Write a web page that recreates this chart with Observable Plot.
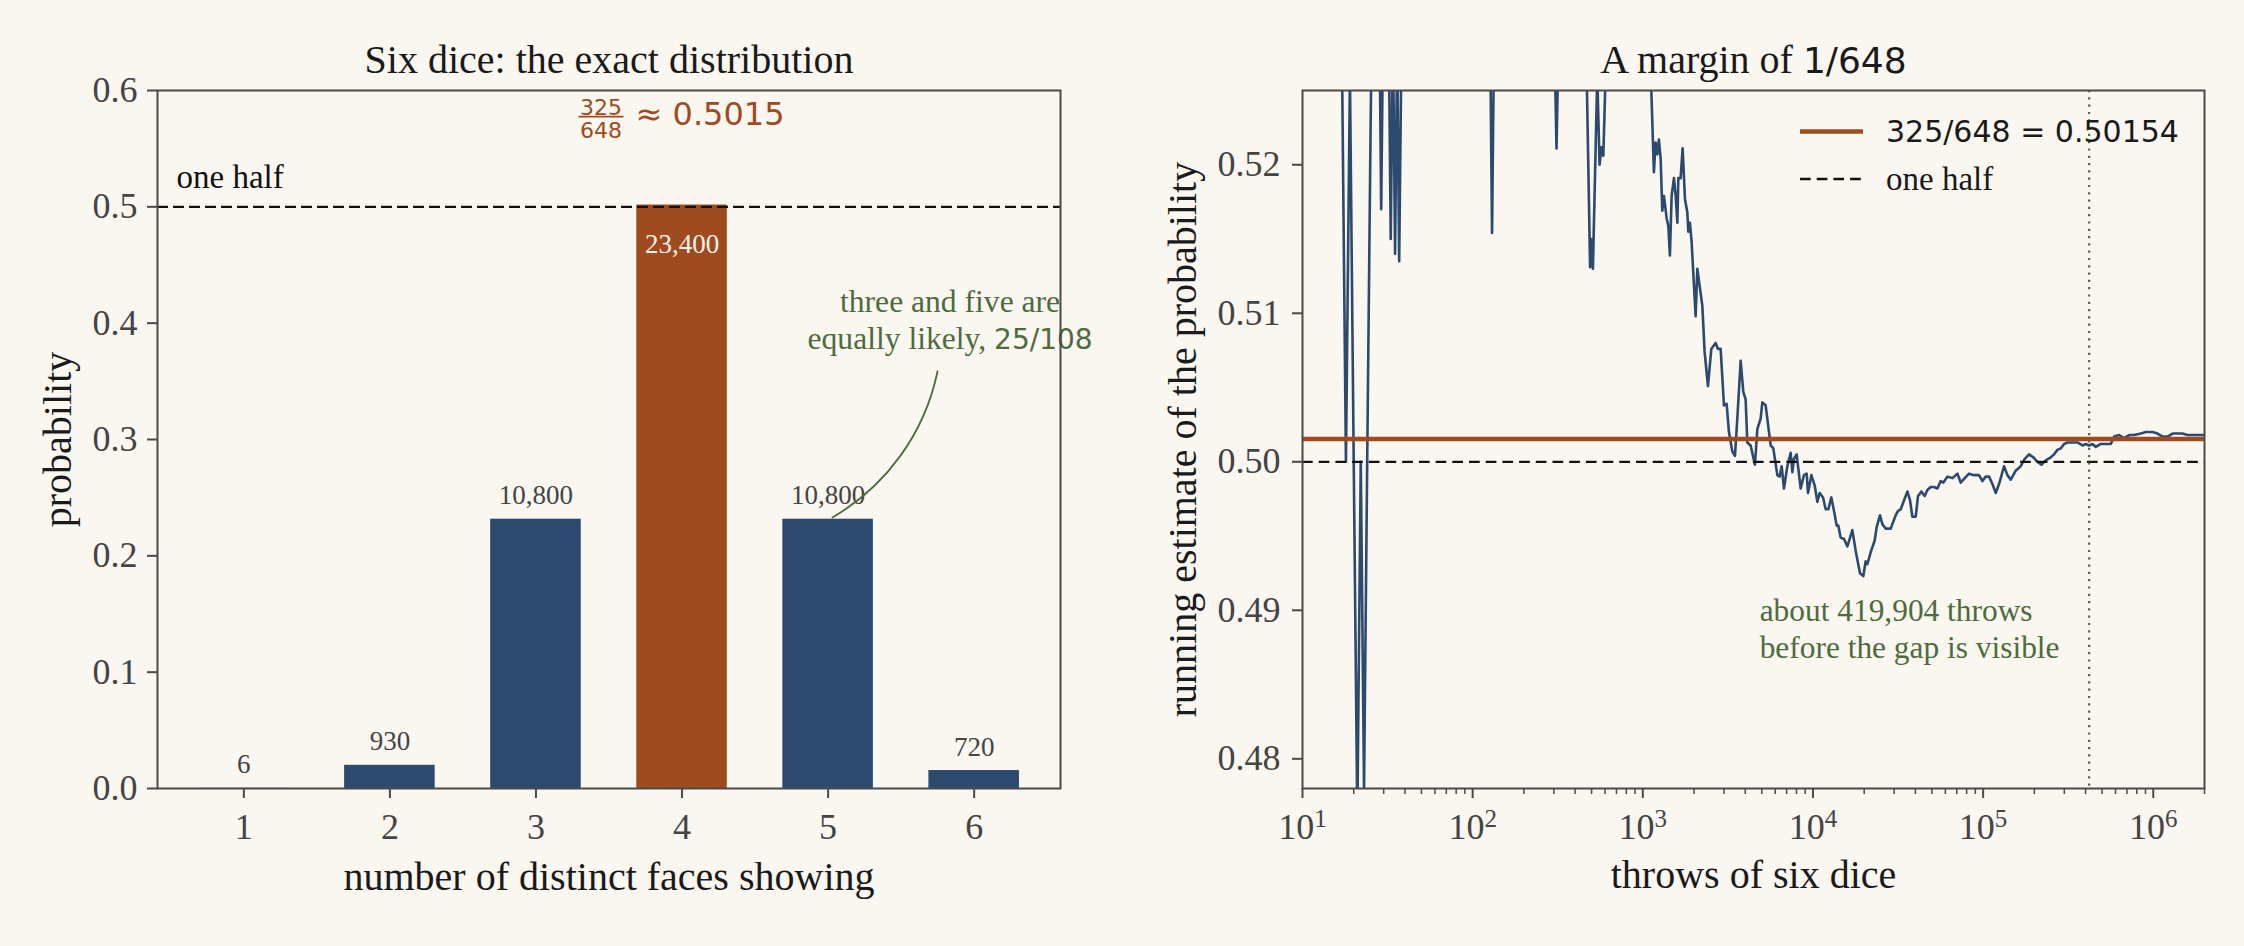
<!DOCTYPE html>
<html>
<head>
<meta charset="utf-8">
<script src="https://cdn.jsdelivr.net/npm/d3@7"></script>
<script src="https://cdn.jsdelivr.net/npm/@observablehq/plot@0.6"></script>
<style>
html, body { margin: 0; padding: 0; background: #faf6f0; }
#wrap { display: flex; width: 2244px; height: 946px; }
#wrap svg { display: block; }
</style>
</head>
<body>
<div id="wrap"></div>
<script>
// ---------- data ----------
const faces = [1, 2, 3, 4, 5, 6];
const counts = [6, 930, 10800, 23400, 10800, 720];
const probs = [0.000129, 0.01993, 0.23148, 0.50154, 0.23148, 0.01543];
const leftYTicks = [0, 0.1, 0.2, 0.3, 0.4, 0.5, 0.6];

const throwsN = [
  10, 11, 12, 13, 14, 15, 16, 17, 18, 19, 20, 21, 22, 23, 24, 25, 26, 27, 28, 29,
  30, 31, 32, 33, 34, 35, 36, 37, 38, 39, 40, 50, 60, 75, 90, 105, 118, 126, 127, 128,
  129, 130, 131, 132, 133, 134, 140, 160, 200, 250, 290, 300, 304, 311, 318, 330, 380, 430, 460, 468,
  490, 498, 509, 540, 557, 572, 586, 604, 650, 750, 900, 1050, 1110, 1122, 1162, 1189, 1217, 1243, 1273, 1302,
  1331, 1380, 1412, 1443, 1477, 1524, 1560, 1596, 1617, 1668, 1714, 1769, 1826, 1851, 1892, 1936, 2044, 2091, 2238, 2308,
  2415, 2527, 2679, 2765, 2867, 2999, 3109, 3208, 3357, 3480, 3592, 3758, 3896, 4021, 4112, 4302, 4560, 4710, 4926, 5040,
  5272, 5641, 5848, 6175, 6368, 6546, 6754, 7070, 7396, 7568, 7734, 8017, 8468, 8851, 9183, 9350, 9786, 10240, 10610, 10950,
  11460, 11880, 12320, 12820, 13290, 13780, 14100, 14540, 15220, 15930, 17040, 17830, 18890, 19770, 20400, 20880, 21830, 23050, 23680, 24770,
  25570, 26760, 28630, 30630, 31620, 32780, 35890, 37200, 38390, 40170, 41450, 43360, 45370, 47040, 49200, 51470, 53850, 56360, 58420, 61660,
  65990, 70630, 73840, 77980, 82630, 88450, 94640, 99020, 103500, 108400, 113400, 118600, 124100, 132700, 138900, 145300, 155500, 166300, 175600, 186200,
  197500, 208400, 220000, 233300, 249700, 261200, 273300, 285800, 299000, 313000, 335000, 358400, 383700, 401300, 419800, 439500, 459500, 491700, 526100, 563000,
  588800, 630000, 674400, 721600, 772100, 845300, 904300, 990000, 1059000, 1134000, 1213000, 1298000, 1389000, 1486000, 1590000, 1701000, 1820000, 1974000, 2000000
];
const runningP = [
  0.6, 0.545, 0.583, 0.615, 0.571, 0.6, 0.5625, 0.529, 0.5, 0.526, 0.5, 0.476, 0.5, 0.478, 0.5, 0.52, 0.538, 0.556, 0.536, 0.517,
  0.533, 0.548, 0.531, 0.515, 0.529, 0.514, 0.528, 0.5135, 0.526, 0.538, 0.55, 0.56, 0.55, 0.547, 0.544, 0.54, 0.536, 0.532, 0.5276, 0.5234,
  0.5194, 0.5154, 0.519, 0.5227, 0.526, 0.53, 0.536, 0.54, 0.545, 0.54, 0.535, 0.532, 0.527, 0.5211, 0.527, 0.532, 0.535, 0.534, 0.53, 0.526,
  0.5131, 0.515, 0.513, 0.526, 0.52, 0.5212, 0.5206, 0.526, 0.532, 0.536, 0.534, 0.53, 0.527, 0.525, 0.5195, 0.5215, 0.5207, 0.5217, 0.5204, 0.5169,
  0.5179, 0.5164, 0.5159, 0.5139, 0.5179, 0.5191, 0.5179, 0.5161, 0.5191, 0.5191, 0.5211, 0.5177, 0.5168, 0.5155, 0.5161, 0.5148, 0.5098, 0.513, 0.5105, 0.5074,
  0.5051, 0.5076, 0.508, 0.5076, 0.5076, 0.5038, 0.5039, 0.502, 0.5007, 0.5004, 0.5029, 0.5068, 0.5047, 0.5042, 0.5013, 0.5011, 0.4998, 0.5022, 0.5029, 0.504,
  0.5038, 0.5011, 0.5009, 0.4991, 0.499, 0.4997, 0.4982, 0.4997, 0.5006, 0.4993, 0.5002, 0.5005, 0.4982, 0.4991, 0.4992, 0.4979, 0.4991, 0.4984, 0.4973, 0.4979,
  0.4976, 0.4968, 0.4968, 0.4976, 0.4967, 0.4957, 0.4957, 0.4949, 0.4948, 0.4943, 0.4954, 0.494, 0.4925, 0.4923, 0.4933, 0.4931, 0.4939, 0.4947, 0.4956, 0.4964,
  0.4958, 0.4955, 0.4955, 0.4964, 0.4967, 0.4968, 0.498, 0.4974, 0.4963, 0.4963, 0.4977, 0.498, 0.4977, 0.4981, 0.4983, 0.4983, 0.4982, 0.4987, 0.4986, 0.499,
  0.4989, 0.4992, 0.4986, 0.4989, 0.4992, 0.4991, 0.4991, 0.4987, 0.499, 0.499, 0.4985, 0.4979, 0.4985, 0.4997, 0.4991, 0.4988, 0.4994, 0.4997, 0.5002, 0.5005,
  0.5003, 0.5, 0.4998, 0.5001, 0.5003, 0.5005, 0.5008, 0.5009, 0.5012, 0.5013, 0.5013, 0.5013, 0.5011, 0.5012, 0.5011, 0.5012, 0.501, 0.5012, 0.5012, 0.5012,
  0.5017, 0.5018, 0.5016, 0.5018, 0.5018, 0.5019, 0.502, 0.502, 0.5019, 0.5017, 0.5017, 0.5019, 0.5019, 0.5019, 0.5018, 0.5018, 0.5018, 0.5018, 0.5018
];
const rightXTicks = [10, 100, 1000, 10000, 100000, 1000000];
const rightYTicks = [0.48, 0.49, 0.50, 0.51, 0.52];
const exactP = 0.50154;      // 325/648
const oneHalf = 0.5;
const gapThrows = 419904;

// ---------- style ----------
const BG = "#faf6f0", BLUE = "#2c4a6e", ORANGE = "#9f4a1f", GREEN = "#4e6b3e";
const AX = "#4a4a4a", TICKTXT = "#444444", INK = "#1a1a1a";
const SERIF = "Liberation Serif, serif";
const SANS = "DejaVu Sans";

const bars = faces.map((f, i) => ({face: f, p: probs[i], count: counts[i]}));
const run = throwsN.map((n, i) => ({n, p: runningP[i]}));
const fmt = d3.format(",");

const minorTicks = [];
for (let e = 1; e <= 6; e++) for (let m = 2; m <= 9; m++) {
  const v = m * Math.pow(10, e);
  if (v <= 2e6) minorTicks.push(v);
}

const baseStyle = {background: "transparent", fontFamily: SERIF, maxWidth: "none", overflow: "visible"};

// ---------- left chart ----------
const left = Plot.plot({
  width: 1122, height: 946,
  marginLeft: 157, marginRight: 62, marginTop: 90, marginBottom: 158,
  style: baseStyle,
  x: {type: "linear", domain: [0.409, 6.591]},
  y: {domain: [0, 0.6]},
  marks: [
    Plot.rectY(bars, {x1: d => d.face - 0.31, x2: d => d.face + 0.31, y1: 0, y2: "p",
      fill: d => d.face === 4 ? ORANGE : BLUE}),
    Plot.ruleY([oneHalf], {stroke: "#111", strokeWidth: 2.3, strokeDasharray: "11,5"}),
    Plot.text(bars.filter(d => d.face !== 4), {x: "face", y: "p", text: d => fmt(d.count),
      dy: -23.5, lineAnchor: "middle", fontSize: 27, fill: TICKTXT}),
    Plot.text(bars.filter(d => d.face === 4), {x: "face", y: "p", text: d => fmt(d.count),
      dy: 39, lineAnchor: "middle", fontSize: 27, fill: "#fbf3ea"}),
    Plot.text(["one half"], {y: () => oneHalf, frameAnchor: "left", dx: 19, dy: -19,
      textAnchor: "start", lineAnchor: "bottom", fontSize: 33, fill: "#111"}),
    // fraction annotation above bar 4
    Plot.text(["325"], {x: () => 4, y: () => exactP, dx: -81, dy: -89.6, lineAnchor: "bottom",
      fontFamily: SANS, fontSize: 22, fill: ORANGE}),
    Plot.text(["648"], {x: () => 4, y: () => exactP, dx: -81, dy: -67.3, lineAnchor: "bottom",
      fontFamily: SANS, fontSize: 22, fill: ORANGE}),
    (index, scales) => {
      const x0 = scales.x(4), y0 = scales.y(exactP) - 87.9;
      return d3.create("svg:line").attr("x1", x0 - 103).attr("x2", x0 - 58)
        .attr("y1", y0).attr("y2", y0).attr("stroke", ORANGE).attr("stroke-width", 1.6).node();
    },
    Plot.text(["≈ 0.5015"], {x: () => 4, y: () => exactP, dx: -46.5, dy: -79.6, textAnchor: "start",
      lineAnchor: "bottom", fontFamily: SANS, fontSize: 32, fill: ORANGE}),
    // green annotation
    Plot.text(["three and five are\nequally likely, 25/108"], {x: () => 5.835, y: () => 0.378,
      textAnchor: "middle", lineAnchor: "bottom", lineHeight: 1.175, fontSize: 31.6, fill: GREEN}),
    Plot.arrow([0], {x1: () => 5.749, y1: () => 0.3585, x2: () => 5.03, y2: () => 0.233,
      bend: 24, headLength: 0, stroke: GREEN, strokeWidth: 1.8}),
    // titles and labels
    Plot.text(["Six dice: the exact distribution"], {frameAnchor: "top", dy: -17.5, lineAnchor: "bottom",
      textAnchor: "middle", fontSize: 40, fill: INK}),
    Plot.text(["number of distinct faces showing"], {frameAnchor: "bottom", dy: 101, lineAnchor: "bottom",
      textAnchor: "middle", fontSize: 40, fill: INK}),
    Plot.text(["probability"], {frameAnchor: "left", rotate: -90, dx: -87, lineAnchor: "bottom",
      textAnchor: "middle", fontSize: 40, fill: INK}),
    Plot.frame({stroke: AX, strokeWidth: 2}),
    Plot.axisX({ticks: faces, tickFormat: d => String(d), tickSize: 10, tickPadding: 15, fontSize: 36,
      stroke: AX, strokeWidth: 2, fill: TICKTXT, label: null}),
    Plot.axisY({ticks: leftYTicks, tickFormat: ".1f", tickSize: 10, tickPadding: 10, fontSize: 36,
      stroke: AX, strokeWidth: 2, fill: TICKTXT, label: null})
  ]
});

// ---------- right chart ----------
const right = Plot.plot({
  width: 1122, height: 946,
  marginLeft: 180, marginRight: 40, marginTop: 90, marginBottom: 158,
  style: baseStyle,
  x: {type: "log", domain: [10, 2e6]},
  y: {domain: [0.478, 0.525]},
  marks: [
    Plot.line(run, {x: "n", y: "p", stroke: BLUE, strokeWidth: 2.6, clip: true}),
    Plot.ruleY([exactP], {stroke: ORANGE, strokeWidth: 4.5}),
    Plot.ruleY([oneHalf], {stroke: "#111", strokeWidth: 2.3, strokeDasharray: "10.7,6"}),
    Plot.ruleX([gapThrows], {stroke: GREEN, strokeWidth: 2.2, strokeDasharray: "2.2,5.1"}),
    Plot.text(["about 419,904 throws\nbefore the gap is visible"], {x: () => 4861, y: () => 0.48679,
      textAnchor: "start", lineAnchor: "bottom", lineHeight: 1.19, fontSize: 31.4, fill: GREEN}),
    // legend
    (index, scales, values, dims) => {
      const fr = dims.width - dims.marginRight;
      const g = d3.create("svg:g").attr("text-anchor", "start");
      g.append("line").attr("x1", fr - 404).attr("x2", fr - 341).attr("y1", 131.5).attr("y2", 131.5)
        .attr("stroke", ORANGE).attr("stroke-width", 4.5);
      g.append("text").attr("x", fr - 318).attr("y", 131.5).attr("dy", "0.36em").attr("text-anchor", "start")
        .attr("font-family", SANS).attr("font-size", 30).attr("fill", INK).text("325/648 = 0.50154");
      g.append("line").attr("x1", fr - 404).attr("x2", fr - 341).attr("y1", 179).attr("y2", 179)
        .attr("stroke", "#111").attr("stroke-width", 2.3).attr("stroke-dasharray", "10.7,6");
      g.append("text").attr("x", fr - 318).attr("y", 190).attr("text-anchor", "start")
        .attr("font-family", SERIF).attr("font-size", 33).attr("fill", INK).text("one half");
      return g.node();
    },
    Plot.text(["A margin of 1/648"], {frameAnchor: "top", dy: -17.5, lineAnchor: "bottom",
      textAnchor: "middle", fontSize: 40, fill: INK}),
    Plot.text(["throws of six dice"], {frameAnchor: "bottom", dy: 99, lineAnchor: "bottom",
      textAnchor: "middle", fontSize: 40, fill: INK}),
    Plot.text(["running estimate of the probability"], {frameAnchor: "left", rotate: -90, dx: -107,
      lineAnchor: "bottom", textAnchor: "middle", fontSize: 40, fill: INK}),
    Plot.frame({stroke: AX, strokeWidth: 2}),
    Plot.axisX({ticks: minorTicks, tickFormat: () => "", tickSize: 6, stroke: AX, strokeWidth: 1.5, label: null}),
    Plot.axisX({ticks: rightXTicks, tickFormat: d => "10^" + Math.round(Math.log10(d)), tickSize: 10,
      tickPadding: 15, fontSize: 36, stroke: AX, strokeWidth: 2, fill: TICKTXT, label: null}),
    Plot.axisY({ticks: rightYTicks, tickFormat: ".2f", tickSize: 10, tickPadding: 12, fontSize: 36,
      stroke: AX, strokeWidth: 2, fill: TICKTXT, label: null})
  ]
});

const wrap = document.getElementById("wrap");
wrap.appendChild(left);
wrap.appendChild(right);

// ---------- text post-processing: mixed fonts and superscripts ----------
const NS = "http://www.w3.org/2000/svg";
function sansify(root, str, size) {
  root.querySelectorAll("text, tspan").forEach(el => {
    if (el.children.length) return;
    const t = el.textContent;
    const i = t.indexOf(str);
    if (i < 0) return;
    el.textContent = "";
    if (i > 0) el.appendChild(document.createTextNode(t.slice(0, i)));
    const sp = document.createElementNS(NS, "tspan");
    sp.setAttribute("font-family", SANS);
    sp.setAttribute("font-size", size);
    sp.textContent = str;
    el.appendChild(sp);
    const rest = t.slice(i + str.length);
    if (rest) el.appendChild(document.createTextNode(rest));
  });
}
sansify(left, "25/108", 28);
sansify(right, "1/648", 36);

right.querySelectorAll("text").forEach(el => {
  if (el.children.length) return;
  const m = /^10\^(\d)$/.exec(el.textContent);
  if (!m) return;
  el.textContent = "10";
  const sup = document.createElementNS(NS, "tspan");
  sup.setAttribute("dy", "-12");
  sup.setAttribute("font-size", 25);
  sup.textContent = m[1];
  el.appendChild(sup);
});
</script>
</body>
</html>
